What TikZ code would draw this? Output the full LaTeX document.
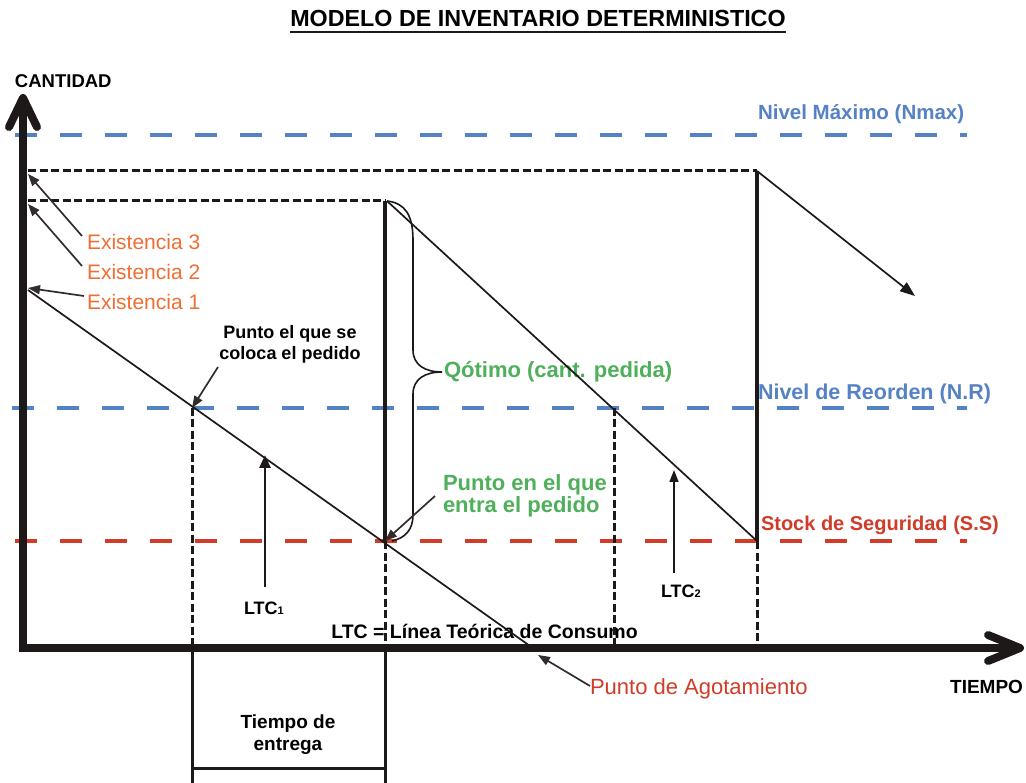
\documentclass[tikz,border=0pt]{standalone}
\usepackage{fontspec}
\setmainfont{Liberation Sans}
\usetikzlibrary{arrows.meta,calc}
\definecolor{nblue}{RGB}{84,130,196}
\definecolor{nred}{RGB}{208,60,40}
\definecolor{norange}{RGB}{238,110,50}
\definecolor{ngreen}{RGB}{78,176,90}
\definecolor{ink}{RGB}{30,25,25}
\definecolor{arr}{RGB}{50,45,45}
\newcommand{\fsz}[2]{\fontsize{#1}{#2}\selectfont}
\begin{document}
\begin{tikzpicture}[x=1pt,y=-1pt,
  lvl/.style={line width=4pt, dash pattern=on 22pt off 23pt},
  gdash/.style={ink, line width=3pt, dash pattern=on 8pt off 3.5pt},
  ltc/.style={ink, line width=1.7pt},
  pointer/.style={arr, line width=1.7pt, -{Triangle[length=12pt,width=9pt]}},
  lbl/.style={inner sep=0pt, outer sep=0pt},
  axisline/.style={ink, line width=8pt},
]
\useasboundingbox (0,0) rectangle (1026,783);

% ---------- coordinates ----------
\coordinate (O) at (23,648);
\coordinate (ytip) at (23,98);
\coordinate (xtip) at (1020,648);
\coordinate (e1) at (28,290);
\coordinate (e2) at (28,201);
\coordinate (e3) at (28,171);
\coordinate (p1) at (28,288);
\coordinate (p2) at (28,204);
\coordinate (p3) at (28,174);
\coordinate (q1top) at (385,201);
\coordinate (q1bot) at (385,541);
\coordinate (q2top) at (757,171);
\coordinate (q2bot) at (757,541);
\coordinate (r1) at (192,408);
\coordinate (r2) at (614,408);
\coordinate (l1end) at (530,646);
\coordinate (l2start) at (387,201);
\coordinate (l3end) at (915,296);

% ---------- texts ----------
\node[lbl, anchor=base, font=\bfseries\fsz{23.3}{28}] (title) at (538,27) {MODELO DE INVENTARIO DETERMINISTICO};
\draw[ink, line width=2.2pt] ($(title.base west)+(0,5)$) -- ($(title.base east)+(0,5)$);

\node[lbl, anchor=base west, font=\bfseries\fsz{18.5}{22}] (cant) at (15,88) {CANTIDAD};
\node[lbl, anchor=base east, font=\bfseries\fsz{19}{22}] (tiempo) at (1023,693) {TIEMPO};

\node[lbl, anchor=base west, text=norange, font=\fsz{21}{25}] (ex3) at (87,250) {Existencia 3};
\node[lbl, anchor=base west, text=norange, font=\fsz{21}{25}] (ex2) at (87,280) {Existencia 2};
\node[lbl, anchor=base west, text=norange, font=\fsz{21}{25}] (ex1) at (87,310) {Existencia 1};

\node[lbl, anchor=base west, text=nblue, font=\bfseries\fsz{20.5}{24}] (nmax) at (758,120) {Nivel Máximo (Nmax)};
\node[lbl, anchor=base west, text=nblue, font=\bfseries\fsz{21.5}{25}] (nr) at (758,400) {Nivel de Reorden (N.R)};
\node[lbl, anchor=base west, text=nred, font=\bfseries\fsz{20}{24}] (ss) at (761,530) {Stock de Seguridad (S.S)};

\node[lbl, anchor=base west, text=ngreen, font=\bfseries\fsz{22}{26}] (qopt) at (444,378) {Qótimo (cant. pedida)};
\node[lbl, anchor=base west, text=ngreen, font=\bfseries\fsz{22}{26}] (pe1) at (443,490) {Punto en el que};
\node[lbl, anchor=base west, text=ngreen, font=\bfseries\fsz{22}{26}] (pe2) at (443,513) {entra el pedido};

\node[lbl, anchor=base, font=\bfseries\fsz{18}{21}] (pc1) at (290,339) {Punto el que se};
\node[lbl, anchor=base, font=\bfseries\fsz{18}{21}] (pc2) at (290,360) {coloca el pedido};

\node[lbl, anchor=base west, font=\bfseries\fsz{18}{21}] (ltc1) at (244,614) {LTC{\fsz{11}{11}1}};
\node[lbl, anchor=base west, font=\bfseries\fsz{18}{21}] (ltc2) at (661,597) {LTC{\fsz{11}{11}2}};
\node[lbl, anchor=base, font=\bfseries\fsz{19.5}{23}] (ltcdef) at (484.5,638) {LTC = Línea Teórica de Consumo};

\node[lbl, anchor=base, font=\bfseries\fsz{19}{22}] (te1) at (288,728) {Tiempo de};
\node[lbl, anchor=base, font=\bfseries\fsz{19}{22}] (te2) at (288,750) {entrega};

\node[lbl, anchor=base west, text=nred, font=\fsz{22}{26}] (agot) at (590,694) {Punto de Agotamiento};

% ---------- level lines ----------
\draw[lvl, nblue] (15,135) -- (967,135);
\draw[lvl, nblue] (12,408) -- (967,408);
\draw[lvl, nred] (15,541) -- (967,541);

\draw[gdash] (e3) -- (q2top);
\draw[gdash] (e2) -- (q1top);

% dashed verticals
\draw[gdash] (r1) -- (192,645);
\draw[gdash] (q1bot) -- (385,645);
\draw[gdash] (r2) -- (614,645);
\draw[gdash] (q2bot) -- (757,645);

% lead time box below axis
\draw[ink, line width=3pt] (192,652) -- (192,783);
\draw[ink, line width=3pt] (385,652) -- (385,783);
\draw[ink, line width=3pt] (192,768) -- (385,768);

% consumption lines
\draw[ltc] (e1) -- (l1end);
\draw[ltc] (l2start) -- (q2bot);
\draw[ltc, -{Triangle[length=15pt,width=11pt]}] (q2top) -- (l3end);

% replenishment verticals
\draw[ink, line width=3.5pt] (q1top) -- (q1bot);
\draw[ink, line width=4pt] (q2top) -- (q2bot);

% brace
\draw[ink, line width=1.6pt] (l2start) .. controls (405,203) and (413,215) .. (413,240)
  -- (413,350) .. controls (413,365) and (425,372) .. (442,372)
  .. controls (425,372) and (413,379) .. (413,394)
  -- (413,515) .. controls (413,530) and (405,538) .. (392,541);

% LTC arrows
\draw[ink, line width=2.8pt, -{Triangle[length=13pt,width=11pt]}] (265,587) -- (265,455);
\draw[ink, line width=1.6pt, -{Triangle[length=12pt,width=9pt]}] (674,573) -- (674,470);

% pointers
\draw[pointer] (82,236) -- (p3);
\draw[pointer] (82,266) -- (p2);
\draw[pointer] (84,296) -- (p1);
\draw[pointer] (218,367) -- (r1);
\draw[pointer] (435,496) -- (q1bot);
\draw[pointer] (590,686) -- (538,655);

% ---------- axes ----------
\draw[axisline, line join=miter] (ytip) -- (O) -- (xtip);
\draw[axisline, line cap=round, line join=round] (9,127) -- (ytip) -- (37,127);
\draw[axisline, line cap=round, line join=round] (988,635) -- (xtip) -- (988,661);
\end{tikzpicture}
\end{document}
